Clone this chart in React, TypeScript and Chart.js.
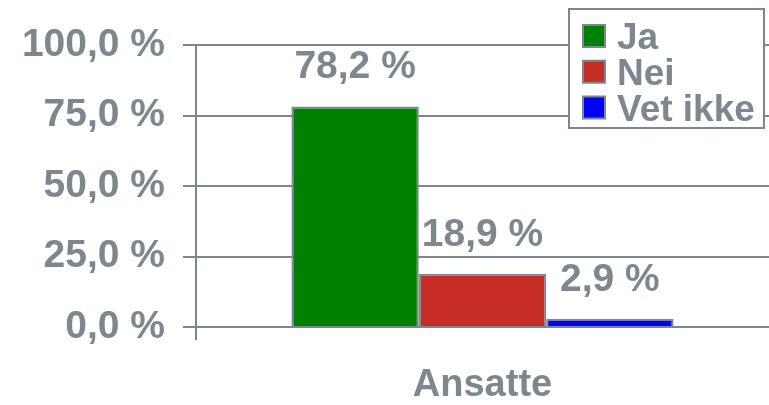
import React, { useEffect, useRef } from "react";
import { Chart, registerables } from "chart.js";

Chart.register(...registerables);

const categories = ["Ansatte"];
const seriesNames = ["Ja", "Nei", "Vet ikke"];
const seriesValues = [[78.2], [18.9], [2.9]];
const seriesColors = ["#008000", "#c62d24", "#0000ff"];
const yTicks = [0, 25, 50, 75, 100];

const GRAY = "#7d878e";
const FONT = "'Liberation Sans', Arial, sans-serif";

const fmt = (v: number) => v.toFixed(1).replace(".", ",") + " %";

const overlayPlugin = {
  id: "overlay",
  afterDatasetsDraw(chart: any) {
    const ctx = chart.ctx;
    ctx.save();
    ctx.fillStyle = GRAY;
    ctx.font = `bold 39px ${FONT}`;
    ctx.textAlign = "center";
    ctx.textBaseline = "alphabetic";
    chart.data.datasets.forEach((ds: any, i: number) => {
      const meta = chart.getDatasetMeta(i);
      meta.data.forEach((el: any, j: number) => {
        ctx.fillText(fmt(ds.data[j]), el.x, el.y - 28);
      });
    });
    ctx.restore();
  },
  afterDraw(chart: any) {
    const ctx = chart.ctx;
    ctx.save();
    const bx = 569, by = 9, bw = 195, bh = 119;
    ctx.fillStyle = "#ffffff";
    ctx.fillRect(bx, by, bw, bh);
    ctx.strokeStyle = GRAY;
    ctx.lineWidth = 2;
    ctx.strokeRect(bx, by, bw, bh);
    ctx.font = `bold 37px ${FONT}`;
    ctx.textBaseline = "alphabetic";
    ctx.textAlign = "left";
    chart.data.datasets.forEach((ds: any, i: number) => {
      const cy = by + 27 + i * 35.75;
      ctx.fillStyle = ds.backgroundColor;
      ctx.fillRect(583, cy - 11, 22, 22);
      ctx.strokeStyle = GRAY;
      ctx.lineWidth = 2;
      ctx.strokeRect(583, cy - 11, 22, 22);
      ctx.fillStyle = GRAY;
      ctx.fillText(ds.label, 617, cy + 13);
    });
    ctx.restore();
  },
};

export default function App() {
  const ref = useRef<HTMLCanvasElement>(null);
  useEffect(() => {
    document.body.style.margin = "0";
    const chart = new Chart(ref.current!, {
      type: "bar",
      data: {
        labels: categories,
        datasets: seriesNames.map((name, i) => ({
          label: name,
          data: seriesValues[i],
          backgroundColor: seriesColors[i],
          borderColor: GRAY,
          borderWidth: 2,
          categoryPercentage: 0.667,
          barPercentage: 1,
        })),
      },
      options: {
        animation: false,
        responsive: false,
        layout: { padding: { top: 45, right: -3, left: 0, bottom: 0 } },
        plugins: { legend: { display: false }, tooltip: { enabled: false } },
        scales: {
          x: {
            offset: true,
            grid: {
              display: true,
              drawOnChartArea: false,
              color: (c: any) => (c.index === 0 ? GRAY : "rgba(0,0,0,0)"),
              lineWidth: 2,
              tickLength: 13,
            },
            border: { display: true, color: GRAY, width: 2 },
            ticks: { color: GRAY, font: { family: FONT, size: 38, weight: "bold" }, padding: 23 },
            afterFit: (s: any) => { s.height = 78; },
          },
          y: {
            min: 0,
            max: 100,
            afterBuildTicks: (s: any) => { s.ticks = yTicks.map((v) => ({ value: v })); },
            grid: { color: GRAY, lineWidth: 2, tickLength: 13 },
            border: { display: true, color: GRAY, width: 2 },
            ticks: {
              color: GRAY,
              font: { family: FONT, size: 39, weight: "bold" },
              padding: 18,
              callback: (v: any) => fmt(Number(v)),
            },
            afterFit: (s: any) => { s.width = 196; },
          },
        },
      },
      plugins: [overlayPlugin],
    });
    return () => chart.destroy();
  }, []);
  return (
    <div style={{ width: 769, height: 405 }}>
      <canvas ref={ref} width={769} height={405} style={{ display: "block" }} />
    </div>
  );
}
